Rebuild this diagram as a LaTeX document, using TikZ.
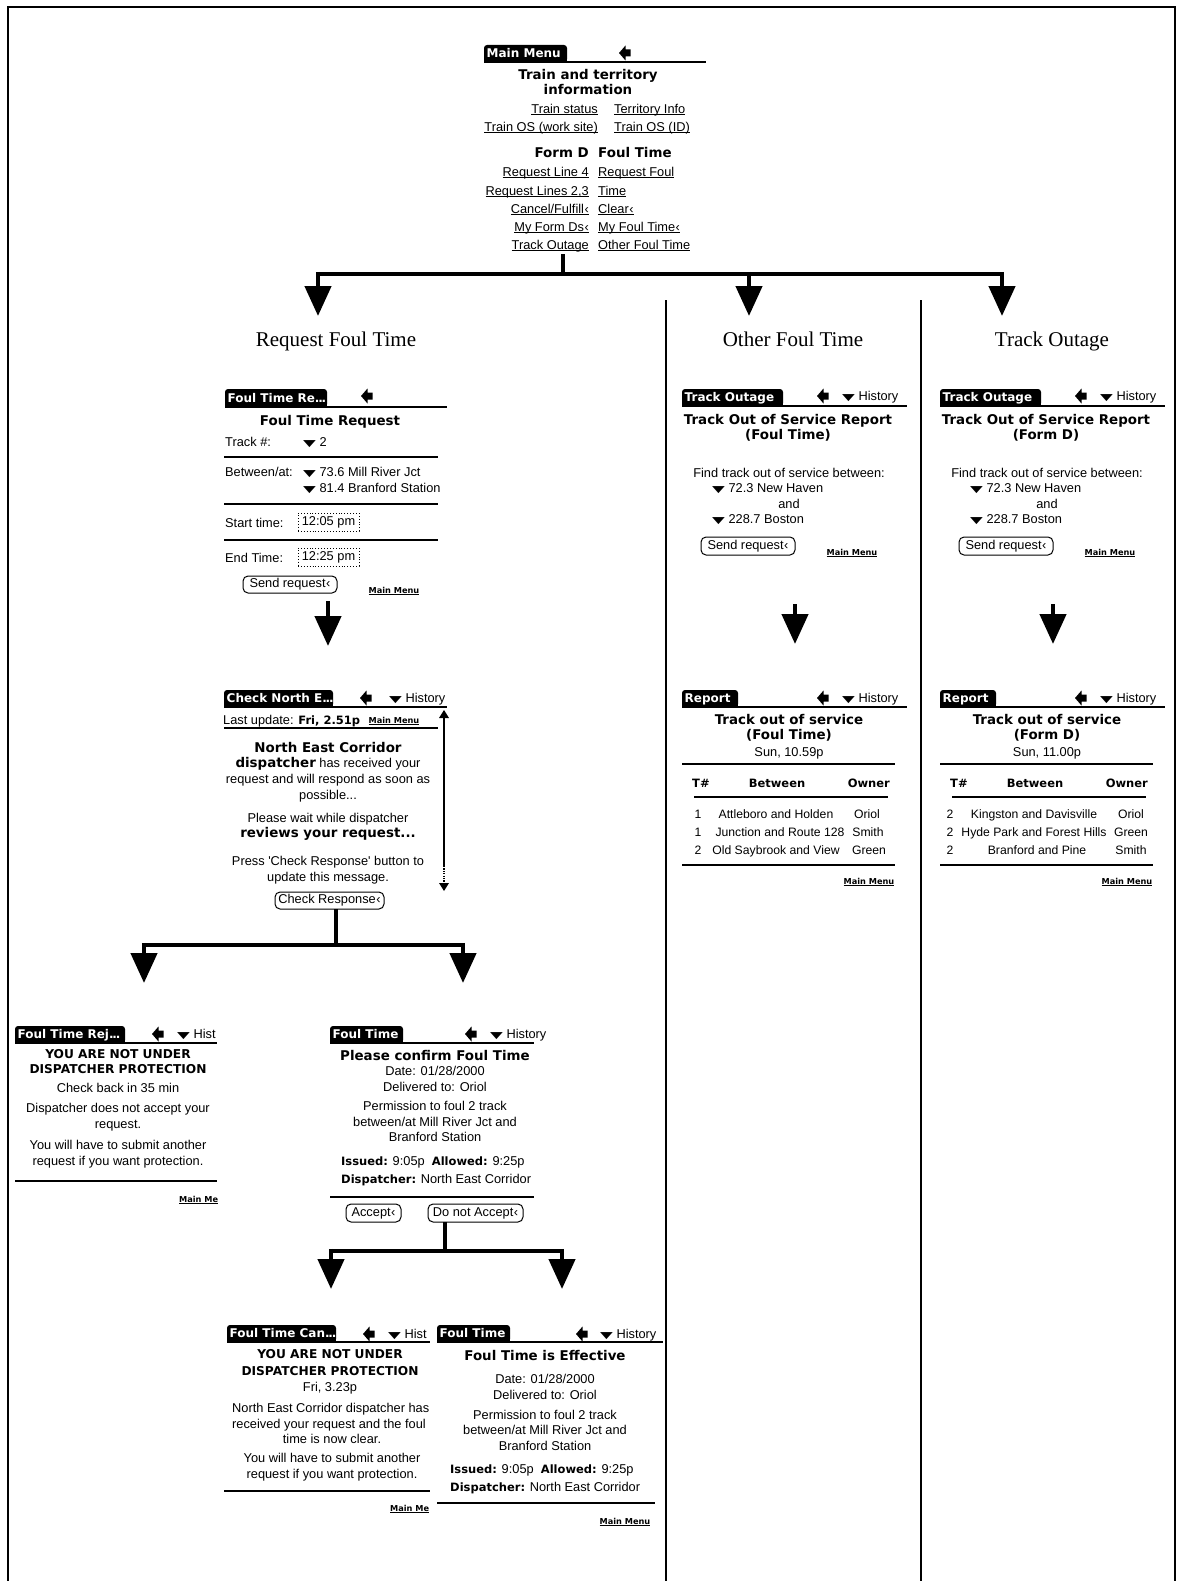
\documentclass[tikz,border=0pt]{standalone}
\usepackage{fontspec}
\setmainfont{Liberation Sans}
\newfontfamily\palmbold{DejaVu Sans}
\newfontfamily\symfont{DejaVu Sans}
\newfontfamily\headfont{Liberation Serif}
\usetikzlibrary{arrows.meta}

% Palm OS style text helpers
\newcommand\pbs[1]{{\fontsize{11.5}{15.6}\palmbold\bfseries #1}}   % small bold
\newcommand\pbl[1]{{\fontsize{13.4}{15.6}\palmbold\bfseries #1}}   % large bold
\newcommand\pbc[1]{{\fontsize{12.2}{15.6}\palmbold\bfseries #1}}   % bold capitals
\newcommand\dnarrow{{\symfont\scalebox{1.3}[0.72]{▼}}}
\newcommand\tapmark{\kern0.5pt‹}
\newcommand\tdots{.\kern-1.2pt.\kern-1.2pt.}
\newcommand\lnk[1]{\setbox0\hbox{#1}\rlap{\rule[-2.2pt]{\wd0}{0.9pt}}\box0}
\newcommand\linkfont{\fontsize{8.2}{10}\palmbold\bfseries}
\newcommand\mainmenulink{\lnk{\linkfont Main Menu}}

% title tab of a form: #1,#2 left/right x, #3 top y, #4 bottom y, #5 end of title bar, #6 label, #7 name
\newcommand\palmtab[7]{%
  \fill[rounded corners=3pt] (#1,#3) rectangle (#2,#4);
  \fill (#1,{#4-5}) rectangle (#2,#4);
  \node[tabtxt, anchor=mid west] (#7) at ({#1+2.5},{(#3+#4)/2+1.5}) {#6};
  \draw[topline] (#1,#4) -- (#5,#4);
}
% filled "back" arrow of the title bar
\newcommand\backarrow[2]{%
  \fill ({#1-6},{#2+1}) -- ({#1+0.5},{#2-6.5}) -- ({#1+0.5},{#2-2.5}) -- ({#1+5.5},{#2-2.5})
    -- ({#1+5.5},{#2+4.5}) -- ({#1+0.5},{#2+4.5}) -- ({#1+0.5},{#2+8.5}) -- cycle;}

% track outage query form: #1 name prefix, #2 x shift, #3 subtitle
\newcommand\trackoutageform[3]{%
  \begin{scope}[xshift=#2pt]
    \palmtab{682}{783}{389}{406}{907}{Track Outage}{#1Tab}
    \backarrow{823}{395}
    \node[ptxt, mw] (#1Hist) at (842,395) {\dnarrow\ History};
    \node[ptitle, align=center, anchor=north] (#1Title) at (788,414) {Track Out of Service Report\\(#3)};
    \node[ptxt, mc] (#1Find) at (789,472) {Find track out of service between:};
    \node[ptxt, mw] (#1From) at (712,487) {\dnarrow\ 72.3 New Haven};
    \node[ptxt, mc] (#1And) at (789,503) {and};
    \node[ptxt, mw] (#1To) at (712,518) {\dnarrow\ 228.7 Boston};
    \node[btn, minimum width=94pt, minimum height=18pt] (#1Send) at (748,546) {Send request\tapmark};
    \node[mlink] (#1MM) at (852,551) {\mainmenulink};
    \coordinate (#1Out) at (795,604);
  \end{scope}}

% track out of service report: #1 name prefix, #2 x shift, #3 subtitle, #4 time
\newcommand\reportform[4]{%
  \begin{scope}[xshift=#2pt]
    \palmtab{682}{738}{690}{707}{907}{Report}{#1Tab}
    \backarrow{823}{697}
    \node[ptxt, mw] (#1Hist) at (842,697) {\dnarrow\ History};
    \node[ptitle, align=center, anchor=north] (#1Title) at (789,714) {Track out of service\\(#3)};
    \node[ptxt, mc] (#1Time) at (789,751) {#4};
    \draw[sepline] (682,764) -- (895,764);
    \node[thead, mw] (#1HT) at (692,782) {T\#};
    \node[thead, mc] (#1HB) at (777,782) {Between};
    \node[thead, me] (#1HO) at (890,782) {Owner};
    \draw[sepline] (694,797) -- (888,797);
    \draw[sepline] (682,865) -- (895,865);
    \node[mlink] (#1MM) at (869,880) {\mainmenulink};
    \coordinate (#1In) at (795,644);
  \end{scope}}

\begin{document}
\begin{tikzpicture}[x=1pt,y=-1pt,
  ptxt/.style={inner sep=0pt, font=\fontsize{12.8}{15.6}\selectfont},
  rowtxt/.style={inner sep=0pt, anchor=mid, yshift=-2.5pt, font=\fontsize{12.2}{15}\selectfont},
  ptitle/.style={inner sep=0pt, font=\fontsize{13.4}{15.6}\palmbold\bfseries},
  thead/.style={inner sep=0pt, font=\fontsize{11.5}{14}\palmbold\bfseries},
  tabtxt/.style={inner sep=0pt, text=white, font=\fontsize{12}{14}\palmbold\bfseries},
  mw/.style={anchor=mid west, yshift=-2.5pt},
  me/.style={anchor=mid east, yshift=-2.5pt},
  mc/.style={anchor=mid, yshift=-2.5pt},
  mlink/.style={inner sep=0pt, anchor=mid, yshift=-1.5pt},
  topline/.style={line width=2pt},
  sepline/.style={line width=1.6pt},
  btn/.style={draw, line width=1pt, rounded corners=5pt, inner sep=0pt, font=\fontsize{12.8}{15}\selectfont},
  dotbox/.style={draw, dotted, line width=0.9pt, inner sep=0pt, font=\fontsize{12.8}{15}\selectfont},
  tree/.style={line width=4.5pt},
  drop/.style={line width=4.5pt, -{Triangle[width=26pt,length=30pt]}},
  heading/.style={inner sep=0pt, anchor=mid, font=\fontsize{21}{24}\headfont},
  frameline/.style={line width=1.2pt}
]
\useasboundingbox (0,0) rectangle (1176,1581);
\fill[white] (0,0) rectangle (1176,1581);

% outer frame and column separators
\draw[frameline] (8,1581) -- (8,7) -- (1175,7) -- (1175,1581);
\draw[frameline] (666,300) -- (666,1581);
\draw[frameline] (921,300) -- (921,1581);

% ---------- Main Menu form ----------
\palmtab{484}{567}{45}{62}{706}{Main Menu}{mmTab}
\backarrow{625}{52}
\node[ptitle, align=center, anchor=north] (mmHead) at (588,69) {Train and territory\\information};
\node[ptxt, me] (mmTS) at (598,108) {\lnk{Train status}};
\node[ptxt, mw] (mmTI) at (614,108) {\lnk{Territory Info}};
\node[ptxt, me] (mmOSw) at (598,126) {\lnk{Train OS (work site)}};
\node[ptxt, mw] (mmOSi) at (614,126) {\lnk{Train OS (ID)}};
\node[ptitle, me] (mmFD) at (589,152) {Form D};
\node[ptitle, mw] (mmFT) at (598,152) {Foul Time};
\node[ptxt, me] (mmL1) at (589,171) {\lnk{Request Line 4}};
\node[ptxt, me] (mmL2) at (589,190) {\lnk{Request Lines 2,3}};
\node[ptxt, me] (mmL3) at (589,208) {\lnk{Cancel/Fulfill\tapmark}};
\node[ptxt, me] (mmL4) at (589,226) {\lnk{My Form Ds\tapmark}};
\node[ptxt, me] (mmL5) at (589,244) {\lnk{Track Outage}};
\node[ptxt, mw] (mmR1) at (598,171) {\lnk{Request Foul}};
\node[ptxt, mw] (mmR2) at (598,190) {\lnk{Time}};
\node[ptxt, mw] (mmR3) at (598,208) {\lnk{Clear\tapmark}};
\node[ptxt, mw] (mmR4) at (598,226) {\lnk{My Foul Time\tapmark}};
\node[ptxt, mw] (mmR5) at (598,244) {\lnk{Other Foul Time}};

% ---------- column headings ----------
\node[heading] (hReq) at (336,344) {Request Foul Time};
\node[heading] (hOther) at (793,344) {Other Foul Time};
\node[heading] (hTrack) at (1052,344) {Track Outage};

% ---------- branching from the main menu ----------
\coordinate (mmOut) at (563,254);
\coordinate (mmSplit) at (563,274);
\coordinate (brL) at (315.75,274);
\coordinate (brR) at (1004.25,274);
\coordinate (toReq) at (318,316);
\coordinate (toOther) at (749,316);
\coordinate (toTrack) at (1002,316);
\draw[tree] (mmOut) -- (mmSplit);
\draw[tree] (brL) -- (brR);
\draw[drop] ([yshift=2.25pt]brL -| toReq) -- (toReq);
\draw[drop] ([yshift=2.25pt]brL -| toOther) -- (toOther);
\draw[drop] ([yshift=2.25pt]brL -| toTrack) -- (toTrack);

% ---------- Foul Time Request form ----------
\palmtab{225}{327}{389}{407}{447}{Foul Time Re\tdots}{rqTab}
\backarrow{367}{395}
\node[ptitle, mc] (rqTitle) at (330,420) {Foul Time Request};
\node[ptxt, mw] (rqTrk) at (225,441) {Track \#:};
\node[ptxt, mw] (rqTrkV) at (303,441) {\dnarrow\ 2};
\draw[sepline] (224,457) -- (438,457);
\node[ptxt, mw] (rqBtw) at (225,471) {Between/at:};
\node[ptxt, mw] (rqFrom) at (303,471) {\dnarrow\ 73.6 Mill River Jct};
\begin{scope}
  \clip (224,478) rectangle (439,497);
  \node[ptxt, mw] (rqTo) at (303,487) {\dnarrow\ 81.4 Branford Station};
\end{scope}
\draw[sepline] (224,504) -- (438,504);
\node[ptxt, mw] (rqSt) at (225,522) {Start time:};
\node[dotbox, minimum width=61pt, minimum height=18pt] (rqStV) at (328.5,522) {12:05 pm};
\draw[sepline] (224,540) -- (438,540);
\node[ptxt, mw] (rqEt) at (225,557) {End Time:};
\node[dotbox, minimum width=61pt, minimum height=18pt] (rqEtV) at (328.5,557) {12:25 pm};
\node[btn, minimum width=94pt, minimum height=17pt] (rqSend) at (290,584.5) {Send request\tapmark};
\node[mlink] (rqMM) at (394,589) {\mainmenulink};
\coordinate (rqOut) at (328,601);
\coordinate (ckIn) at (328,646);
\draw[drop] (rqOut) -- (ckIn);

% ---------- Check North East Corridor form ----------
\palmtab{224}{333}{690}{707}{447}{Check North E\tdots}{ckTab}
\backarrow{366}{697}
\node[ptxt, mw] (ckHist) at (389,697) {\dnarrow\ History};
\node[ptxt, mw] (ckUpd) at (223,719) {Last update: \pbs{Fri,\ 2.51p}};
\node[mlink] (ckMM) at (394,719) {\mainmenulink};
\draw[sepline] (224,728) -- (438,728);
\fill (444,710) -- (449,718) -- (439,718) -- cycle;
\draw[line width=2.6pt] (444,718) -- (444,866);
\draw[line width=2.6pt, dash pattern=on 1.2pt off 1.2pt] (444,866) -- (444,882);
\fill (444,891) -- (449,883) -- (439,883) -- cycle;
\node[ptxt, align=center, anchor=north] (ckMsg) at (328,742)
  {\pbl{North East Corridor}\\ \pbl{dispatcher} has received your\\ request and will respond as soon as\\ possible...\\[7.4pt]
   Please wait while dispatcher\\ \pbl{reviews your request...}\\[12.4pt]
   Press \textquotesingle Check Response\textquotesingle\ button to\\ update this message.};
\node[btn, minimum width=109pt, minimum height=17pt] (ckBtn) at (329.5,900.5) {Check Response\tapmark};
\coordinate (ckOut) at (336,909);
\coordinate (ckSplit) at (336,945);
\coordinate (ckBrL) at (141.75,945);
\coordinate (ckBrR) at (465.25,945);
\coordinate (rjIn) at (144,983);
\coordinate (cfIn) at (463,983);
\draw[tree] (ckOut) -- (ckSplit);
\draw[tree] (ckBrL) -- (ckBrR);
\draw[drop] ([yshift=2.25pt]ckBrL -| rjIn) -- (rjIn);
\draw[drop] ([yshift=2.25pt]ckBrL -| cfIn) -- (cfIn);

% ---------- Foul Time Rejected form ----------
\palmtab{15}{125}{1026}{1043}{217}{Foul Time Rej\tdots}{rjTab}
\backarrow{158}{1033}
\node[ptxt, mw] (rjHist) at (177,1033) {\dnarrow\ Hist};
\node[ptxt, align=center, anchor=north] (rjMsg) at (118,1049)
  {\pbc{YOU ARE NOT UNDER}\\ \pbc{DISPATCHER PROTECTION}\\[3.4pt] Check back in 35 min\\[4.4pt]
   Dispatcher does not accept your\\ request.\\[5.4pt] You will have to submit another\\ request if you want protection.};
\draw[sepline] (15,1181) -- (217,1181);
\node[mlink, anchor=mid west] (rjMM) at (179,1198) {\lnk{\linkfont Main Me}};

% ---------- Foul Time confirmation form ----------
\palmtab{330}{403}{1026}{1043}{534}{Foul Time}{cfTab}
\backarrow{471}{1033}
\node[ptxt, mw] (cfHist) at (490,1033) {\dnarrow\ History};
\node[ptxt, align=center, anchor=north] (cfMsg) at (435,1050)
  {\pbl{Please confirm Foul Time}\\ Date: 01/28/2000\\ Delivered to: Oriol\\[3.4pt]
   Permission to foul 2 track\\ between/at Mill River Jct and\\ Branford Station};
\node[ptxt, mw] (cfIss) at (341,1160) {\pbs{Issued:} 9:05p\ \ \pbs{Allowed:} 9:25p};
\node[ptxt, mw] (cfDsp) at (341,1178) {\pbs{Dispatcher:} North East Corridor};
\draw[sepline] (330,1197) -- (534,1197);
\node[btn, minimum width=55pt, minimum height=18pt] (cfAcc) at (373.5,1213) {Accept\tapmark};
\node[btn, minimum width=95pt, minimum height=18pt] (cfNot) at (475.5,1213) {Do not Accept\tapmark};
\coordinate (cfOut) at (445,1222);
\coordinate (cfSplit) at (445,1251);
\coordinate (cfBrL) at (328.75,1251);
\coordinate (cfBrR) at (564.25,1251);
\coordinate (cnIn) at (331,1289);
\coordinate (efIn) at (562,1289);
\draw[tree] (cfOut) -- (cfSplit);
\draw[tree] (cfBrL) -- (cfBrR);
\draw[drop] ([yshift=2.25pt]cfBrL -| cnIn) -- (cnIn);
\draw[drop] ([yshift=2.25pt]cfBrL -| efIn) -- (efIn);

% ---------- Foul Time Cancelled form ----------
\palmtab{227}{336}{1325}{1342}{430}{Foul Time Can\tdots}{cnTab}
\backarrow{369}{1333}
\node[ptxt, mw] (cnHist) at (388,1333) {\dnarrow\ Hist};
\node[ptxt, align=center, anchor=north] (cnHead) at (330,1349)
  {\pbc{YOU ARE NOT UNDER}\\[1.2pt] \pbc{DISPATCHER PROTECTION}\\[1.2pt] Fri, 3.23p};
\begin{scope}
  \clip (224,1398) rectangle (430,1431);
  \node[ptxt, mw] (cnL1) at (232,1407) {North East Corridor dispatcher has};
  \node[ptxt, mw] (cnL2) at (232,1423) {received your request and the foul};
\end{scope}
\node[ptxt, align=center, anchor=north] (cnMsg) at (332,1434)
  {time is now clear.\\[3.4pt] You will have to submit another\\ request if you want protection.};
\draw[sepline] (224,1491) -- (430,1491);
\node[mlink, anchor=mid west] (cnMM) at (390,1507) {\lnk{\linkfont Main Me}};

% ---------- Foul Time effective form ----------
\palmtab{437}{510}{1325}{1342}{663}{Foul Time}{efTab}
\backarrow{582}{1333}
\node[ptxt, mw] (efHist) at (600,1333) {\dnarrow\ History};
\node[ptitle, mc] (efTitle) at (545,1355) {Foul Time is Effective};
\node[ptxt, align=center, anchor=north] (efMsg) at (545,1374)
  {Date: 01/28/2000\\ Delivered to: Oriol\\[4.4pt]
   Permission to foul 2 track\\ between/at Mill River Jct and\\ Branford Station};
\node[ptxt, mw] (efIss) at (450,1468) {\pbs{Issued:} 9:05p\ \ \pbs{Allowed:} 9:25p};
\node[ptxt, mw] (efDsp) at (450,1486) {\pbs{Dispatcher:} North East Corridor};
\draw[sepline] (437,1503) -- (655,1503);
\node[mlink] (efMM) at (625,1520) {\mainmenulink};

% ---------- Other Foul Time / Track Outage columns ----------
\trackoutageform{tf}{0}{Foul Time}
\trackoutageform{td}{258}{Form D}
\reportform{rf}{0}{Foul Time}{Sun, 10.59p}
\reportform{rd}{258}{Form D}{Sun, 11.00p}
\draw[drop] (tfOut) -- (rfIn);
\draw[drop] (tdOut) -- (rdIn);

% report rows, foul time
\node[rowtxt] (rfA1) at (698,813) {1};
\node[rowtxt] (rfA2) at (776,813) {Attleboro and Holden};
\node[rowtxt] (rfA3) at (867,813) {Oriol};
\node[rowtxt] (rfB1) at (698,831) {1};
\node[rowtxt] (rfB2) at (780,831) {Junction and Route 128};
\node[rowtxt] (rfB3) at (868,831) {Smith};
\node[rowtxt] (rfC1) at (698,849) {2};
\node[rowtxt] (rfC2) at (776,849) {Old Saybrook and View};
\node[rowtxt] (rfC3) at (869,849) {Green};
% report rows, form D
\node[rowtxt] (rdA1) at (950,813) {2};
\node[rowtxt] (rdA2) at (1034,813) {Kingston and Davisville};
\node[rowtxt] (rdA3) at (1131,813) {Oriol};
\node[rowtxt] (rdB1) at (950,831) {2};
\node[rowtxt] (rdB2) at (1034,831) {Hyde Park and Forest Hills};
\node[rowtxt] (rdB3) at (1131,831) {Green};
\node[rowtxt] (rdC1) at (950,849) {2};
\node[rowtxt] (rdC2) at (1037,849) {Branford and Pine};
\node[rowtxt] (rdC3) at (1131,849) {Smith};
\end{tikzpicture}
\end{document}
